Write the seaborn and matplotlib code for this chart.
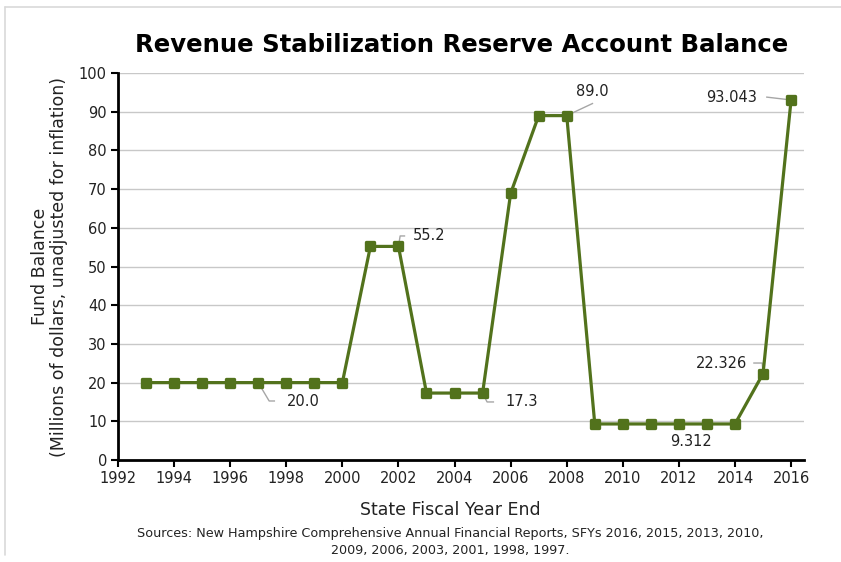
import matplotlib
matplotlib.use("Agg")
import matplotlib.pyplot as plt
import seaborn as sns
import pandas as pd
from matplotlib.lines import Line2D
from matplotlib.markers import MarkerStyle

years = list(range(1993, 2017))
balance = [20.0, 20.0, 20.0, 20.0, 20.0, 20.0, 20.0, 20.0,
           55.2, 55.2,
           17.3, 17.3, 17.3,
           68.9, 89.0, 89.0,
           9.312, 9.312, 9.312, 9.312, 9.312, 9.312,
           22.326, 93.043]

label_years = [1997, 2002, 2005, 2008, 2012, 2015, 2016]
label_texts = ["20.0", "55.2", "17.3", "89.0", "9.312", "22.326", "93.043"]

x_ticks = list(range(1992, 2017, 2))
y_ticks = list(range(0, 101, 10))

# Label placement: text anchor (x, y, ha) and leader waypoints after the point
label_layout = {
    1997: ((1998.03, 15.2, "left"), [(1997.39, 15.25), (1997.60, 15.25)]),
    2002: ((2002.52, 57.9, "left"), [(2002.06, 57.9), (2002.24, 57.9)]),
    2005: ((2005.80, 15.0, "left"), [(2005.16, 15.0), (2005.41, 15.0)]),
    2008: ((2008.90, 95.3, "center"), [(2008.94, 92.2)]),
    2012: ((2012.43, 4.9, "center"), []),
    2015: ((2014.43, 25.0, "right"), [(2014.97, 25.06), (2014.65, 25.06)]),
    2016: ((2014.79, 93.8, "right"), [(2015.11, 93.8)]),
}

sns.set_theme(style="white")
plt.rcParams["font.family"] = ["DejaVu Sans"]

green = "#52721c"
df = pd.DataFrame({"year": years, "balance": balance})

fig = plt.figure(figsize=(8.41, 5.62), dpi=100)
ax = fig.add_axes([0.1403, 0.1815, 0.8157, 0.6885])

for v in y_ticks[1:]:
    ax.axhline(v, color="#c8c8c8", linewidth=1.0, zorder=0)

sns.lineplot(data=df, x="year", y="balance", ax=ax, color=green,
             linewidth=2.3, marker=MarkerStyle("s", joinstyle="round"),
             markersize=6.3, markeredgecolor=green, markerfacecolor=green,
             markeredgewidth=2.4, zorder=3)
for ln in ax.get_lines():
    ln.set_solid_joinstyle("round")

lookup = dict(zip(years, balance))
for yr, txt in zip(label_years, label_texts):
    (tx, ty, ha), path = label_layout[yr]
    if path:
        xs = [yr] + [p[0] for p in path]
        ys = [lookup[yr]] + [p[1] for p in path]
        ax.plot(xs, ys, color="#a6a6a6", linewidth=1.0, zorder=2,
                solid_capstyle="butt")
    ax.text(tx, ty, txt, ha=ha, va="center", fontsize=10.5, color="#222222",
            zorder=4)

ax.set_xlim(1992, 2016.46)
ax.set_ylim(0, 100)
ax.set_xticks(x_ticks)
ax.set_yticks(y_ticks)
ax.tick_params(axis="both", which="major", length=5, width=1.5, color="black",
               labelsize=10.5, labelcolor="#222222", direction="out",
               bottom=True, left=True, pad=3)
for side in ["top", "right"]:
    ax.spines[side].set_visible(False)
for side in ["left", "bottom"]:
    ax.spines[side].set_color("black")
    ax.spines[side].set_linewidth(2.0)

ax.set_xlabel("")
ax.set_ylabel("Fund Balance\n(Millions of dollars, unadjusted for inflation)",
              fontsize=12.5, color="#222222", labelpad=8, linespacing=1.05)

fig.suptitle("Revenue Stabilization Reserve Account Balance", x=0.549, y=0.942,
             fontsize=17.6, fontweight="bold", color="black")
fig.text(0.535, 0.093, "State Fiscal Year End", ha="center", va="center",
         fontsize=12.5, color="#222222")
fig.text(0.535, 0.036,
         "Sources: New Hampshire Comprehensive Annual Financial Reports, SFYs 2016, 2015, 2013, 2010,\n"
         "2009, 2006, 2003, 2001, 1998, 1997.",
         ha="center", va="center", fontsize=9.2, color="#222222", linespacing=1.45)

# light frame around the chart
fig.add_artist(Line2D([0.006, 0.006], [0.012, 0.988], transform=fig.transFigure,
                      color="#d9d9d9", linewidth=1.2))
fig.add_artist(Line2D([0.006, 1.0], [0.988, 0.988], transform=fig.transFigure,
                      color="#d9d9d9", linewidth=1.2))

fig.savefig("out.png", dpi=100)
